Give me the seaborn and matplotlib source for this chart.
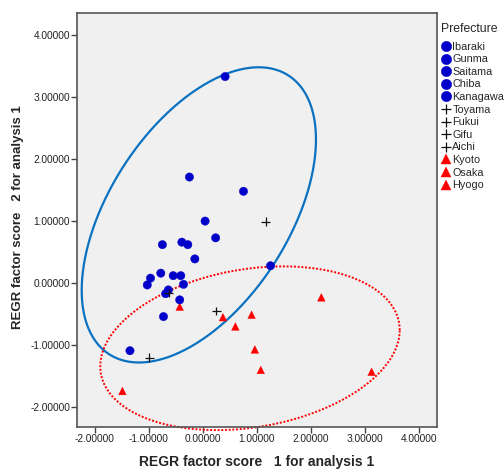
import numpy as np
import pandas as pd
import matplotlib
matplotlib.use("Agg")
import matplotlib.pyplot as plt
import seaborn as sns

# ---- data ----
blue_prefs = ["Ibaraki", "Gunma", "Saitama", "Chiba", "Kanagawa"]
black_prefs = ["Toyama", "Fukui", "Gifu", "Aichi"]
red_prefs = ["Kyoto", "Osaka", "Hyogo"]

blue_pref = ["Ibaraki", "Gunma", "Saitama", "Chiba", "Kanagawa",
             "Ibaraki", "Gunma", "Saitama", "Chiba", "Kanagawa",
             "Ibaraki", "Gunma", "Saitama", "Chiba", "Kanagawa",
             "Ibaraki", "Gunma", "Saitama", "Chiba", "Kanagawa",
             "Ibaraki"]
blue_score1 = [0.41, -0.25, 0.75, 0.04, 0.235, -0.75, -0.39, -0.28, -0.15, 1.25,
               -0.78, -0.97, -1.03, -0.55, -0.41, -0.36, -0.64, -0.69, -0.43, -0.73,
               -1.35]
blue_score2 = [3.33, 1.71, 1.48, 1.00, 0.73, 0.62, 0.66, 0.62, 0.39, 0.28,
               0.16, 0.08, -0.03, 0.12, 0.12, -0.02, -0.11, -0.17, -0.27, -0.54,
               -1.09]

black_pref = ["Toyama", "Fukui", "Gifu", "Aichi"]
black_score1 = [1.16, -0.63, 0.25, -0.99]
black_score2 = [0.99, -0.16, -0.45, -1.20]

red_pref = ["Kyoto", "Osaka", "Hyogo", "Kyoto", "Osaka", "Hyogo", "Kyoto", "Osaka", "Hyogo"]
red_score1 = [2.19, -0.43, 0.37, 0.90, 0.60, 0.96, 1.07, 3.12, -1.49]
red_score2 = [-0.23, -0.38, -0.55, -0.51, -0.70, -1.07, -1.40, -1.43, -1.74]

# ellipse summaries (centre, x/y spread, covariance term)
blue_ell = dict(cx=-0.076, cy=1.10, sx=2.167, sy=2.38, sxy=2.635)
red_ell = dict(cx=0.87, cy=-1.05, sx=2.77, sy=1.32, sxy=0.81)

xticks = [-2, -1, 0, 1, 2, 3, 4]
yticks = [-2, -1, 0, 1, 2, 3, 4]

# ---- build frames ----
df_blue = pd.DataFrame({"Prefecture": blue_pref, "x": blue_score1, "y": blue_score2})
df_black = pd.DataFrame({"Prefecture": black_pref, "x": black_score1, "y": black_score2})
df_red = pd.DataFrame({"Prefecture": red_pref, "x": red_score1, "y": red_score2})

sns.set_style("white")
plt.rcParams["font.family"] = ["Liberation Sans", "DejaVu Sans"]

fig = plt.figure(figsize=(5.04, 4.69), dpi=100)
ax = fig.add_axes([77 / 504, 1 - 427 / 469, 360 / 504, 414 / 469])
ax.set_facecolor("#f0f0f0")

BLUE = "#0000c8"
RED = "#ff0000"

sns.scatterplot(data=df_blue, x="x", y="y", hue="Prefecture", hue_order=blue_prefs,
                palette={p: BLUE for p in blue_prefs}, marker="o", s=36,
                edgecolor=BLUE, linewidth=0.3, ax=ax, zorder=3)
sns.scatterplot(data=df_black, x="x", y="y", hue="Prefecture", hue_order=black_prefs,
                palette={p: "#111111" for p in black_prefs}, marker="+", s=40,
                linewidth=0.9, ax=ax, zorder=4)
sns.scatterplot(data=df_red, x="x", y="y", hue="Prefecture", hue_order=red_prefs,
                palette={p: RED for p in red_prefs}, marker="^", s=30,
                edgecolor=RED, linewidth=0.3, ax=ax, zorder=2)


def ellipse_xy(cx, cy, sx, sy, sxy, n=500):
    M = np.array([[sx ** 2, sxy], [sxy, sy ** 2]])
    A = np.linalg.cholesky(M)
    t = np.linspace(0, 2 * np.pi, n)
    pts = A @ np.vstack([np.cos(t), np.sin(t)])
    return cx + pts[0], cy + pts[1]


bx, by = ellipse_xy(**blue_ell)
ax.plot(bx, by, color="#0a72c1", lw=1.6, zorder=1)
rx, ry = ellipse_xy(**red_ell)
ax.plot(rx, ry, color=RED, lw=1.4, linestyle=(0, (1, 0.9)), zorder=1, clip_on=False)

ax.set_xlim(-2.33, 4.33)
ax.set_ylim(-2.32, 4.355)
ax.set_xticks(xticks)
ax.set_yticks(yticks)
ax.set_xticklabels([f"{v:.5f}" for v in xticks])
ax.set_yticklabels([f"{v:.5f}" for v in yticks])
ax.tick_params(axis="both", which="both", direction="out", length=4, width=1,
               color="#444444", labelsize=7.3, labelcolor="#222222", pad=1,
               bottom=True, left=True)
for sp in ax.spines.values():
    sp.set_color("#555555")
    sp.set_linewidth(1.2)

ax.set_xlabel("REGR factor score   1 for analysis 1", fontsize=10, fontweight="bold", labelpad=8)
ax.set_ylabel("REGR factor score   2 for analysis 1", fontsize=9.5, fontweight="bold")
ax.yaxis.set_label_coords(-0.146, 0.507)

handles, labels = ax.get_legend_handles_labels()
leg = ax.legend(handles, labels, title="Prefecture", loc="upper left",
                bbox_to_anchor=(1.005, 0.980), frameon=False, fontsize=7.8,
                title_fontsize=8.8, labelspacing=0.24, handletextpad=0.05,
                handlelength=1.0, borderaxespad=0, borderpad=0.2, markerscale=1.25)
leg._legend_box.align = "left"
leg._legend_box.sep = 4.5

fig.savefig("out.png", dpi=100)
